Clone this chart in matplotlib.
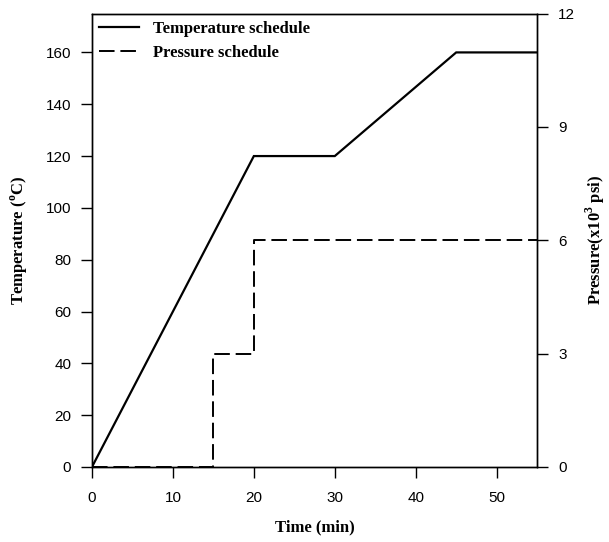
import matplotlib
matplotlib.use("Agg")
import matplotlib.pyplot as plt

time_temp = [0, 20, 30, 45, 55]
temperature = [0, 120, 120, 160, 160]
time_pres = [0, 15, 15, 20, 20, 55]
pressure = [0, 0, 3, 3, 6, 6]
x_ticks = [0, 10, 20, 30, 40, 50]
temp_ticks = [0, 20, 40, 60, 80, 100, 120, 140, 160]
pres_ticks = [0, 3, 6, 9, 12]

serif_bold = dict(family="Liberation Serif", weight="bold", size=12)

fig = plt.figure(figsize=(6.09, 5.42), dpi=100)
ax = fig.add_axes([0.151, 0.1384, 0.731, 0.8366])
ax2 = ax.twinx()

l1, = ax.plot(time_temp, temperature, color="black", lw=1.6, solid_joinstyle="miter")
l2, = ax2.plot(time_pres, pressure, color="black", lw=1.4, linestyle=(0, (8, 3)))

ax.set_xlim(0, 55)
ax.set_ylim(0, 175)
ax2.set_ylim(0, 12)
ax.set_xticks(x_ticks)
ax.set_yticks(temp_ticks)
ax2.set_yticks(pres_ticks)

for a in (ax, ax2):
    a.tick_params(direction="out", length=8, width=1, labelsize=11, pad=7)
    for lab in a.get_xticklabels() + a.get_yticklabels():
        lab.set_family("Liberation Sans")
    for s in a.spines.values():
        s.set_linewidth(1)
ax.tick_params(axis="x", pad=9)

ax.set_xlabel("Time (min)", fontdict=serif_bold, labelpad=11)
ax.set_ylabel("Temperature ($^{\\mathregular{o}}$C)", fontdict=serif_bold, labelpad=11)
ax2.set_ylabel("Pressure(x10$^{\\mathregular{3}}$ psi)", fontdict=serif_bold, labelpad=6)

leg = ax.legend([l1, l2], ["Temperature schedule", "Pressure schedule"],
                loc="upper left", frameon=False, handlelength=2.4,
                prop=dict(family="Liberation Serif", weight="bold", size=12),
                borderaxespad=0.05, labelspacing=0.45, handletextpad=0.8)

fig.savefig("out.png", dpi=100)
